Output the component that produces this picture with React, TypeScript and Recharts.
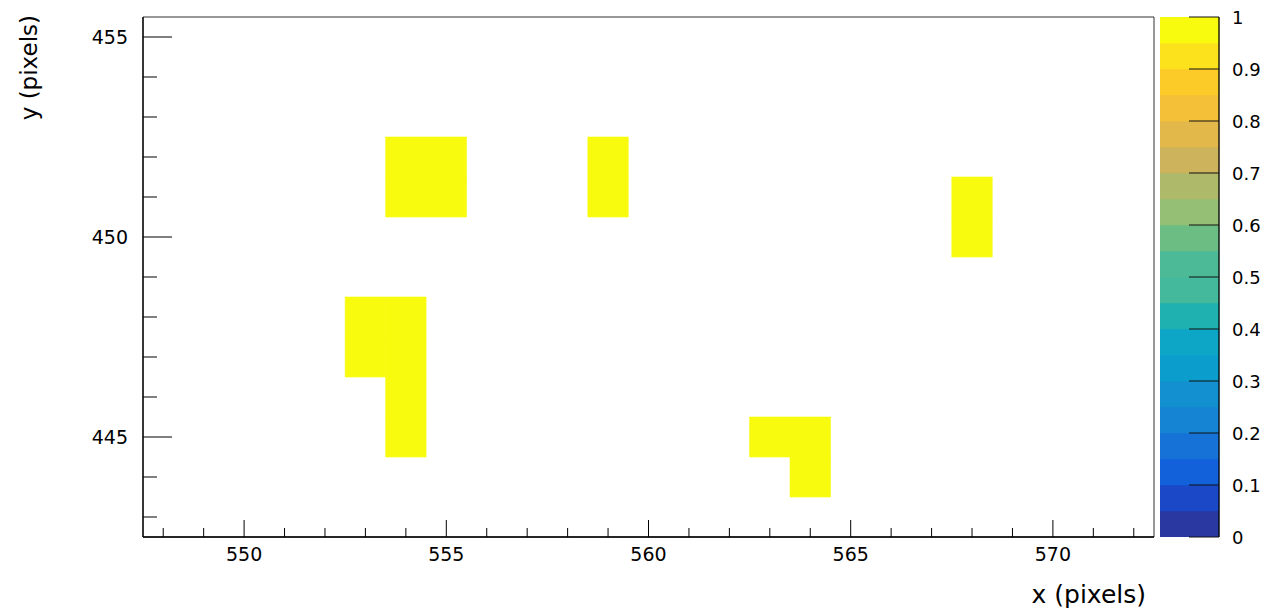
import React from "react";
import { ComposedChart, BarChart, Bar, Scatter, XAxis, YAxis, ReferenceArea, Label } from "recharts";

// Hit pixels (bin centres) and their content
const cellX = [554, 555, 554, 555, 559, 559, 568, 568, 553, 554, 553, 554, 554, 554, 563, 564, 564];
const cellY = [452, 452, 451, 451, 452, 451, 451, 450, 448, 448, 447, 447, 446, 445, 445, 445, 444];
const cellValue = [1, 1, 1, 1, 1, 1, 1, 1, 1, 1, 1, 1, 1, 1, 1, 1, 1];

// Axis ranges and ticks
const xDomain: [number, number] = [547.5, 572.5];
const yDomain: [number, number] = [442.5, 455.5];
const xTicks = [548, 549, 550, 551, 552, 553, 554, 555, 556, 557, 558, 559, 560, 561, 562, 563, 564, 565, 566, 567, 568, 569, 570, 571, 572];
const yTicks = [443, 444, 445, 446, 447, 448, 449, 450, 451, 452, 453, 454, 455];
const zTicks = [0, 0.1, 0.2, 0.3, 0.4, 0.5, 0.6, 0.7, 0.8, 0.9, 1];

// Colour palette levels (bottom to top)
const colorLevels = [0, 0.05, 0.1, 0.15, 0.2, 0.25, 0.3, 0.35, 0.4, 0.45, 0.5, 0.55, 0.6, 0.65, 0.7, 0.75, 0.8, 0.85, 0.9, 0.95, 1];
const paletteColors = [
  "#2a38a1", "#1a48c6", "#1261db", "#1672d6", "#1484d3",
  "#1290cf", "#0b9ecc", "#0ea6c6", "#1fb0b0", "#44b99b",
  "#4dba97", "#6cbd84", "#94bf74", "#afb96a", "#cdb35c",
  "#e2b84b", "#f4c038", "#fdcb28", "#fbe21c", "#f9fb0e",
];

const FONT = "'DejaVu Sans', sans-serif";

const colorFor = (v: number) => {
  let idx = 0;
  for (let i = 0; i < paletteColors.length; i++) {
    if (v >= colorLevels[i]) idx = i;
  }
  return paletteColors[idx];
};

const cells = cellX.map((x, i) => ({ x, y: cellY[i], z: cellValue[i] }));

const bandRow: Record<string, number | string> = { name: "z" };
paletteColors.forEach((_, i) => {
  bandRow["b" + i] = colorLevels[i + 1] - colorLevels[i];
});
const bandData = [bandRow];

const XTick = (props: any) => {
  const { x, y, payload } = props;
  const v = payload.value as number;
  const major = Math.round(v) % 5 === 0;
  return (
    <g>
      <line x1={x} x2={x} y1={y} y2={y - (major ? 17 : 9)} stroke="#000" strokeWidth={1} />
      {major && (
        <text x={x} y={y + 24} textAnchor="middle" fontFamily={FONT} fontSize={19} fill="#000">
          {v}
        </text>
      )}
    </g>
  );
};

const YTick = (props: any) => {
  const { x, y, payload } = props;
  const v = payload.value as number;
  const major = Math.round(v) % 5 === 0;
  return (
    <g>
      <line x1={x} x2={x + (major ? 29 : 14)} y1={y} y2={y} stroke="#000" strokeWidth={1} />
      {major && (
        <text x={x - 15} y={y + 7} textAnchor="end" fontFamily={FONT} fontSize={19} fill="#000">
          {v}
        </text>
      )}
    </g>
  );
};

const ZTick = (props: any) => {
  const { x, y, payload } = props;
  const v = payload.value as number;
  const label = v === 0 || v === 1 ? String(v) : v.toFixed(1);
  return (
    <g>
      <line x1={x - 30} x2={x} y1={y} y2={y} stroke="#111" strokeWidth={1} />
      <text x={x + 13} y={y + 7} textAnchor="start" fontFamily={FONT} fontSize={18} fill="#000">
        {label}
      </text>
    </g>
  );
};

export default function App() {
  return (
    <div style={{ position: "absolute", left: 0, top: 0, width: 1265, height: 614, background: "#fff" }}>
      <div style={{ position: "absolute", left: 0, top: 0 }}>
        <ComposedChart width={1265} height={614} data={cells} margin={{ top: 17, right: 111, left: 0, bottom: 0 }}>
          <XAxis
            dataKey="x"
            type="number"
            domain={xDomain}
            ticks={xTicks}
            interval={0}
            allowDataOverflow
            height={77}
            tickSize={0}
            tickMargin={0}
            tickLine={false}
            axisLine={{ stroke: "#000", strokeWidth: 1.3 }}
            tick={<XTick />}
          >
            <Label
              content={() => (
                <text x={1146} y={603} textAnchor="end" fontFamily={FONT} fontSize={25} fill="#000">
                  x (pixels)
                </text>
              )}
            />
          </XAxis>
          <YAxis
            dataKey="y"
            type="number"
            domain={yDomain}
            ticks={yTicks}
            interval={0}
            allowDataOverflow
            width={143}
            tickSize={0}
            tickMargin={0}
            tickLine={false}
            axisLine={{ stroke: "#000", strokeWidth: 1.3 }}
            tick={<YTick />}
          >
            <Label
              content={() => (
                <text
                  x={37}
                  y={15}
                  textAnchor="end"
                  fontFamily={FONT}
                  fontSize={23}
                  fill="#000"
                  transform="rotate(-90, 37, 15)"
                >
                  y (pixels)
                </text>
              )}
            />
          </YAxis>
          {cells.map((c, i) => (
            <ReferenceArea
              key={i}
              x1={c.x - 0.5}
              x2={c.x + 0.5}
              y1={c.y - 0.5}
              y2={c.y + 0.5}
              fill={colorFor(c.z)}
              fillOpacity={1}
              stroke={colorFor(c.z)}
              strokeWidth={0.6}
            />
          ))}
          <ReferenceArea
            x1={xDomain[0]}
            x2={xDomain[1]}
            y1={yDomain[0]}
            y2={yDomain[1]}
            fill="none"
            fillOpacity={0}
            stroke="#333"
            strokeWidth={1}
          />
          <Scatter dataKey="y" isAnimationActive={false} shape={() => <g />} />
        </ComposedChart>
      </div>
      <div style={{ position: "absolute", left: 1160, top: 0 }}>
        <BarChart
          width={105}
          height={614}
          data={bandData}
          margin={{ top: 17, right: 0, left: 0, bottom: 77 }}
          barCategoryGap={0}
          barGap={0}
        >
          <XAxis dataKey="name" hide />
          <YAxis
            orientation="right"
            type="number"
            domain={[0, 1]}
            ticks={zTicks}
            interval={0}
            allowDataOverflow
            width={46}
            tickSize={0}
            tickMargin={0}
            tickLine={false}
            axisLine={{ stroke: "#000", strokeWidth: 1.3 }}
            tick={<ZTick />}
          />
          {paletteColors.map((c, i) => (
            <Bar key={i} dataKey={"b" + i} stackId="z" fill={c} stroke={c} strokeWidth={0.5} isAnimationActive={false} />
          ))}
        </BarChart>
      </div>
    </div>
  );
}
